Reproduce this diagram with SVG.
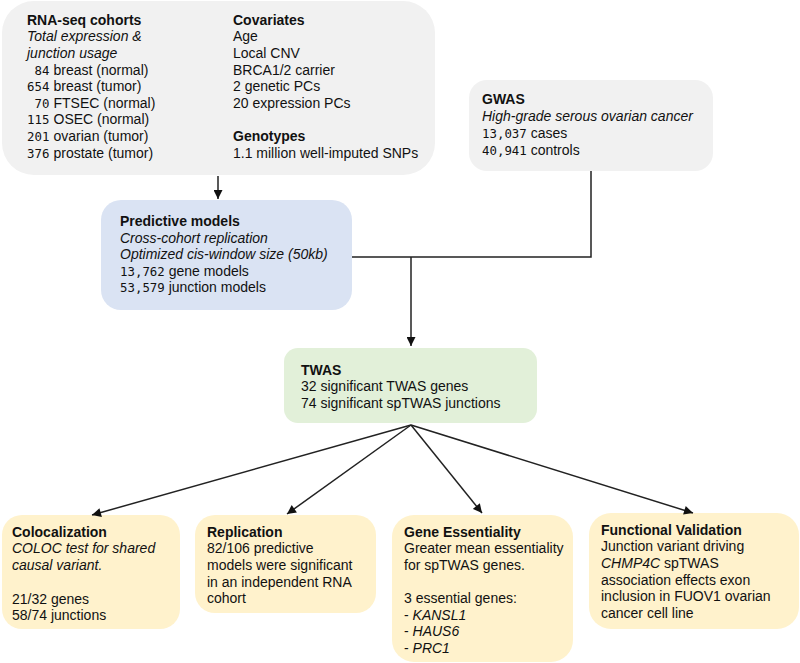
<svg xmlns="http://www.w3.org/2000/svg" width="800" height="663" viewBox="0 0 800 663">
<defs>
<marker id="ah" viewBox="0 0 10 10" refX="10" refY="5" markerWidth="10" markerHeight="9" markerUnits="userSpaceOnUse" orient="auto">
<path d="M0,0 L10,5 L0,10 z" fill="#111"/>
</marker>
<style>
text{font-family:"Liberation Sans",Arial,sans-serif;font-size:14px;fill:#111}
.b{font-weight:bold}
.i{font-style:italic}
.m{font-family:"DejaVu Sans Mono","Liberation Mono",monospace;font-size:12.4px}
.gray{fill:#f1f1f1}
.blue{fill:#dae3f3}
.green{fill:#e2f0d9}
.yel{fill:#fff2cc}
.ln{stroke:#222;stroke-width:1.5;fill:none}
.ar{stroke:#222;stroke-width:1.5;fill:none;marker-end:url(#ah)}
</style>
</defs>

<g id="inputs">
<rect class="gray" x="2" y="1" width="433" height="174" rx="32"/>
<text x="27" y="25" class="b">RNA-seq cohorts</text>
<text x="27" y="41" class="i">Total expression &amp;</text>
<text x="27" y="58" class="i">junction usage</text>
<text x="27" y="75"><tspan class="m" x="34.5">84</tspan><tspan x="53.5">breast (normal)</tspan></text>
<text x="27" y="91"><tspan class="m" x="27">654</tspan><tspan x="53.5">breast (tumor)</tspan></text>
<text x="27" y="108"><tspan class="m" x="34.5">70</tspan><tspan x="53.5">FTSEC (normal)</tspan></text>
<text x="27" y="124"><tspan class="m" x="27">115</tspan><tspan x="53.5">OSEC (normal)</tspan></text>
<text x="27" y="141"><tspan class="m" x="27">201</tspan><tspan x="53.5">ovarian (tumor)</tspan></text>
<text x="27" y="158"><tspan class="m" x="27">376</tspan><tspan x="53.5">prostate (tumor)</tspan></text>
<text x="233" y="25" class="b">Covariates</text>
<text x="233" y="41">Age</text>
<text x="233" y="58">Local CNV</text>
<text x="233" y="75">BRCA1/2 carrier</text>
<text x="233" y="91">2 genetic PCs</text>
<text x="233" y="108">20 expression PCs</text>
<text x="233" y="141" class="b">Genotypes</text>
<text x="233" y="158">1.1 million well-imputed SNPs</text>
</g>

<g id="gwas">
<rect class="gray" x="469" y="80" width="244" height="91" rx="18"/>
<text x="482" y="104" class="b">GWAS</text>
<text x="482" y="121" class="i">High-grade serous ovarian cancer</text>
<text x="482" y="138"><tspan class="m">13,037</tspan> cases</text>
<text x="482" y="155"><tspan class="m">40,941</tspan> controls</text>
</g>

<g id="predictive">
<rect class="blue" x="101" y="200" width="251" height="110" rx="20"/>
<text x="120" y="226" class="b">Predictive models</text>
<text x="120" y="243" class="i">Cross-cohort replication</text>
<text x="120" y="259" class="i">Optimized cis-window size (50kb)</text>
<text x="120" y="276"><tspan class="m">13,762</tspan> gene models</text>
<text x="120" y="292"><tspan class="m">53,579</tspan> junction models</text>
</g>

<g id="twas">
<rect class="green" x="284" y="348" width="253" height="75" rx="14"/>
<text x="301" y="375" class="b">TWAS</text>
<text x="301" y="391">32 significant TWAS genes</text>
<text x="301" y="408">74 significant spTWAS junctions</text>
</g>

<g id="colocalization">
<rect class="yel" x="2" y="515" width="178" height="114" rx="20"/>
<text x="12" y="537" class="b">Colocalization</text>
<text x="12" y="553" class="i">COLOC test for shared</text>
<text x="12" y="570" class="i">causal variant.</text>
<text x="12" y="604">21/32 genes</text>
<text x="12" y="620">58/74 junctions</text>
</g>

<g id="replication">
<rect class="yel" x="195" y="515" width="181" height="98" rx="20"/>
<text x="207" y="537" class="b">Replication</text>
<text x="207" y="553">82/106 predictive</text>
<text x="207" y="570">models were significant</text>
<text x="207" y="587">in an independent RNA</text>
<text x="207" y="603">cohort</text>
</g>

<g id="essentiality">
<rect class="yel" x="392" y="515" width="181" height="147" rx="22"/>
<text x="404" y="537" class="b">Gene Essentiality</text>
<text x="404" y="553">Greater mean essentiality</text>
<text x="404" y="570">for spTWAS genes.</text>
<text x="404" y="603">3 essential genes:</text>
<text x="404" y="620">- <tspan class="i">KANSL1</tspan></text>
<text x="404" y="636">- <tspan class="i">HAUS6</tspan></text>
<text x="404" y="653">- <tspan class="i">PRC1</tspan></text>
</g>

<g id="validation">
<rect class="yel" x="589" y="513" width="210" height="116" rx="22"/>
<text x="601" y="535" class="b">Functional Validation</text>
<text x="601" y="551">Junction variant driving</text>
<text x="601" y="568"><tspan class="i">CHMP4C</tspan> spTWAS</text>
<text x="601" y="585">association effects exon</text>
<text x="601" y="601">inclusion in FUOV1 ovarian</text>
<text x="601" y="618">cancer cell line</text>
</g>

<g id="connectors">
<line class="ar" x1="218" y1="176" x2="218" y2="199"/>
<polyline class="ln" points="352,257 591,257 591,171"/>
<line class="ar" x1="411" y1="257" x2="411" y2="346"/>
<line class="ar" x1="411" y1="425" x2="92" y2="515"/>
<line class="ar" x1="411" y1="425" x2="287" y2="514"/>
<line class="ar" x1="411" y1="425" x2="482" y2="513"/>
<line class="ar" x1="411" y1="425" x2="693" y2="513"/>
</g>
</svg>
